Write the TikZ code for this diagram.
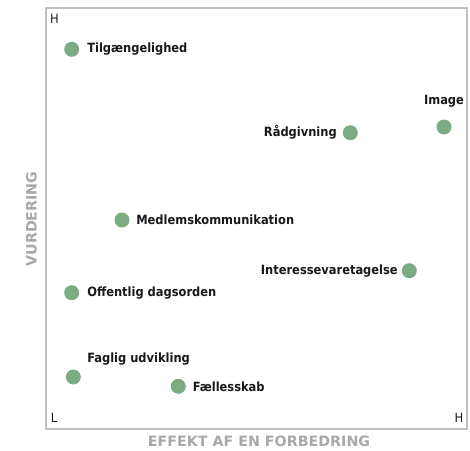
\documentclass[tikz,border=0pt]{standalone}
\usepackage{fontspec}
\setmainfont{DejaVu Sans Condensed}
\newfontfamily\titlefont{DejaVu Sans}
\definecolor{dotgreen}{RGB}{123,171,131}
\definecolor{framegray}{RGB}{192,192,192}
\definecolor{titlegray}{RGB}{168,168,168}
\tikzset{
  dot/.style={circle,fill=dotgreen,draw=none,minimum size=15*0.75pt,inner sep=0pt},
  lbl/.style={font=\bfseries\fontsize{9.55pt}{11pt}\selectfont,inner sep=0pt,text=black!90},
  axl/.style={font=\fontsize{9.6pt}{11pt}\selectfont,inner sep=0pt,text=black!90},
  axtitle/.style={font=\titlefont\bfseries\fontsize{10.7pt}{12pt}\selectfont,inner sep=0pt,text=titlegray}
}
\begin{document}
\begin{tikzpicture}[x=0.75pt,y=-0.75pt]
\useasboundingbox (0,0) rectangle (470,450);
\draw[framegray,line width=1.1pt] (46,8) rectangle (467,429);
% axis letters
\node[axl] (hy) at (54.5,19) {H};
\node[axl] (ly) at (54,418) {L};
\node[axl] (hx) at (459,418) {H};
% axis titles
\node[axtitle] (xt) at (259,441.5) {EFFEKT AF EN FORBEDRING};
\node[axtitle,rotate=90] (yt) at (31.5,219) {VURDERING};
% points
\node[dot] (d1) at (71.7,49.3) {};
\node[lbl,anchor=west] (t1) at (87,49.3) {Tilgængelighed};
\node[dot] (d2) at (350.3,132.7) {};
\node[lbl,anchor=east] (t2) at (337,132.7) {Rådgivning};
\node[dot] (d3) at (444,127) {};
\node[lbl] (t3) at (444,101) {Image};
\node[dot] (d4) at (122,220) {};
\node[lbl,anchor=west] (t4) at (136,220) {Medlemskommunikation};
\node[dot] (d5) at (409.3,270.7) {};
\node[lbl,anchor=east] (t5) at (398,270.7) {Interessevaretagelse};
\node[dot] (d6) at (71.7,292.7) {};
\node[lbl,anchor=west] (t6) at (87,292.7) {Offentlig dagsorden};
\node[dot] (d7) at (73.3,377) {};
\node[lbl,anchor=west] (t7) at (87,359) {Faglig udvikling};
\node[dot] (d8) at (178.3,386.3) {};
\node[lbl,anchor=west] (t8) at (192.5,386.3) {Fællesskab};
\end{tikzpicture}
\end{document}
